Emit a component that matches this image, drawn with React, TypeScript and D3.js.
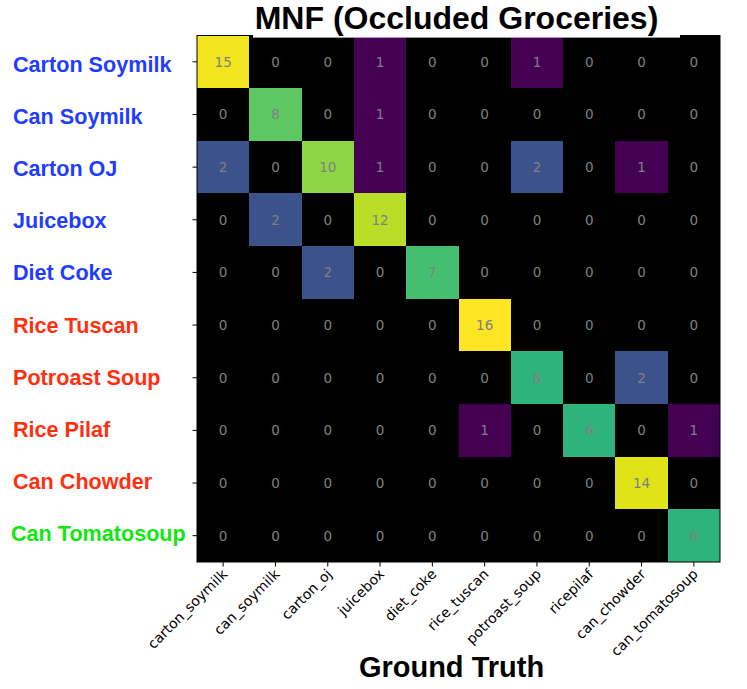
import React from "react";
import * as d3 from "d3";

const rowLabels = [
  "Carton Soymilk", "Can Soymilk", "Carton OJ", "Juicebox", "Diet Coke",
  "Rice Tuscan", "Potroast Soup", "Rice Pilaf", "Can Chowder", "Can Tomatosoup",
];
const rowLabelGroups = ["blue", "blue", "blue", "blue", "blue", "red", "red", "red", "red", "green"];
const colLabels = [
  "carton_soymilk", "can_soymilk", "carton_oj", "juicebox", "diet_coke",
  "rice_tuscan", "potroast_soup", "ricepilaf", "can_chowder", "can_tomatosoup",
];
const matrix = [
  [15, 0, 0, 1, 0, 0, 1, 0, 0, 0],
  [0, 8, 0, 1, 0, 0, 0, 0, 0, 0],
  [2, 0, 10, 1, 0, 0, 2, 0, 1, 0],
  [0, 2, 0, 12, 0, 0, 0, 0, 0, 0],
  [0, 0, 2, 0, 7, 0, 0, 0, 0, 0],
  [0, 0, 0, 0, 0, 16, 0, 0, 0, 0],
  [0, 0, 0, 0, 0, 0, 6, 0, 2, 0],
  [0, 0, 0, 0, 0, 1, 0, 6, 0, 1],
  [0, 0, 0, 0, 0, 0, 0, 0, 14, 0],
  [0, 0, 0, 0, 0, 0, 0, 0, 0, 6],
];
const title = "MNF (Occluded Groceries)";
const xTitle = "Ground Truth";

const groupColor: Record<string, string> = {
  blue: "#1f3dff",
  red: "#ff3010",
  green: "#10e810",
};

const W = 747;
const H = 689;
const left = 197;
const right = 720;
const top = 35.5;
const bottom = 562;

export default function App() {
  const x = d3.scaleBand<number>().domain(d3.range(10)).range([left, right]);
  const y = d3.scaleBand<number>().domain(d3.range(10)).range([top, bottom]);
  const labelY = d3.scalePoint<number>().domain(d3.range(10)).range([72.3, 540.7]);
  const maxV = d3.max(matrix.flat()) as number;
  const norm = d3.scaleLog().domain([1, maxV]).range([0, 1]).clamp(true);
  const color = (v: number) => (v <= 0 ? "#000000" : d3.interpolateViridis(norm(v)));
  const font = "'Liberation Sans', Arial, Helvetica, sans-serif";
  const dv = "'DejaVu Sans', sans-serif";

  return (
    <svg
      width={W}
      height={H}
      style={{ position: "absolute", left: 0, top: 0, display: "block", background: "#fff" }}
    >
      <rect x={0} y={0} width={W} height={H} fill="#fff" />
      <rect x={left} y={top} width={right - left} height={bottom - top} fill="#000" />
      <g shapeRendering="crispEdges">
        {matrix.map((row, i) =>
          row.map((v, j) =>
            v > 0 ? (
              <rect
                key={`c${i}-${j}`}
                x={x(j)}
                y={y(i)}
                width={x.bandwidth()}
                height={y.bandwidth()}
                fill={color(v)}
              />
            ) : null
          )
        )}
      </g>
      <g>
        {matrix.map((row, i) =>
          row.map((v, j) => (
            <text
              key={`t${i}-${j}`}
              x={(x(j) as number) + x.bandwidth() / 2}
              y={(y(i) as number) + y.bandwidth() / 2}
              textAnchor="middle"
              dominantBaseline="central"
              fontFamily={dv}
              fontSize={13.5}
              fill="#808080"
            >
              {v}
            </text>
          ))
        )}
        <rect x={left} y={top} width={right - left} height={bottom - top} fill="none" stroke="#000" strokeWidth={1} />
      </g>
      {/* title with white background */}
      <rect x={253} y={0} width={427} height={37.6} fill="#fff" />
      <text x={456.5} y={29.3} textAnchor="middle" fontFamily={font} fontWeight="bold" fontSize={32} fill="#000">
        {title}
      </text>
      {/* y ticks and labels */}
      {rowLabels.map((lab, i) => {
        const cy = (y(i) as number) + y.bandwidth() / 2;
        return (
          <g key={`yl${i}`}>
            <line x1={left - 4.5} x2={left} y1={cy} y2={cy} stroke="#000" strokeWidth={1} />
            <text
              x={i === 9 ? 11 : 13}
              y={labelY(i)}
              fontFamily={font}
              fontWeight="bold"
              fontSize={21.6}
              fill={groupColor[rowLabelGroups[i]]}
            >
              {lab}
            </text>
          </g>
        );
      })}
      {/* x ticks and labels */}
      {colLabels.map((lab, j) => {
        const cx = (x(j) as number) + x.bandwidth() / 2;
        return (
          <g key={`xl${j}`}>
            <line x1={cx} x2={cx} y1={bottom} y2={bottom + 4.5} stroke="#000" strokeWidth={1} />
            <text
              transform={`translate(${cx + 5},${bottom + 13}) rotate(-45)`}
              textAnchor="end"
              fontFamily={dv}
              fontSize={14}
              fill="#000"
            >
              {lab}
            </text>
          </g>
        );
      })}
      {/* x title with white background */}
      <rect x={352} y={651} width={200} height={38} fill="#fff" />
      <text x={451.5} y={676.5} textAnchor="middle" fontFamily={font} fontWeight="bold" fontSize={29} fill="#000">
        {xTitle}
      </text>
    </svg>
  );
}
